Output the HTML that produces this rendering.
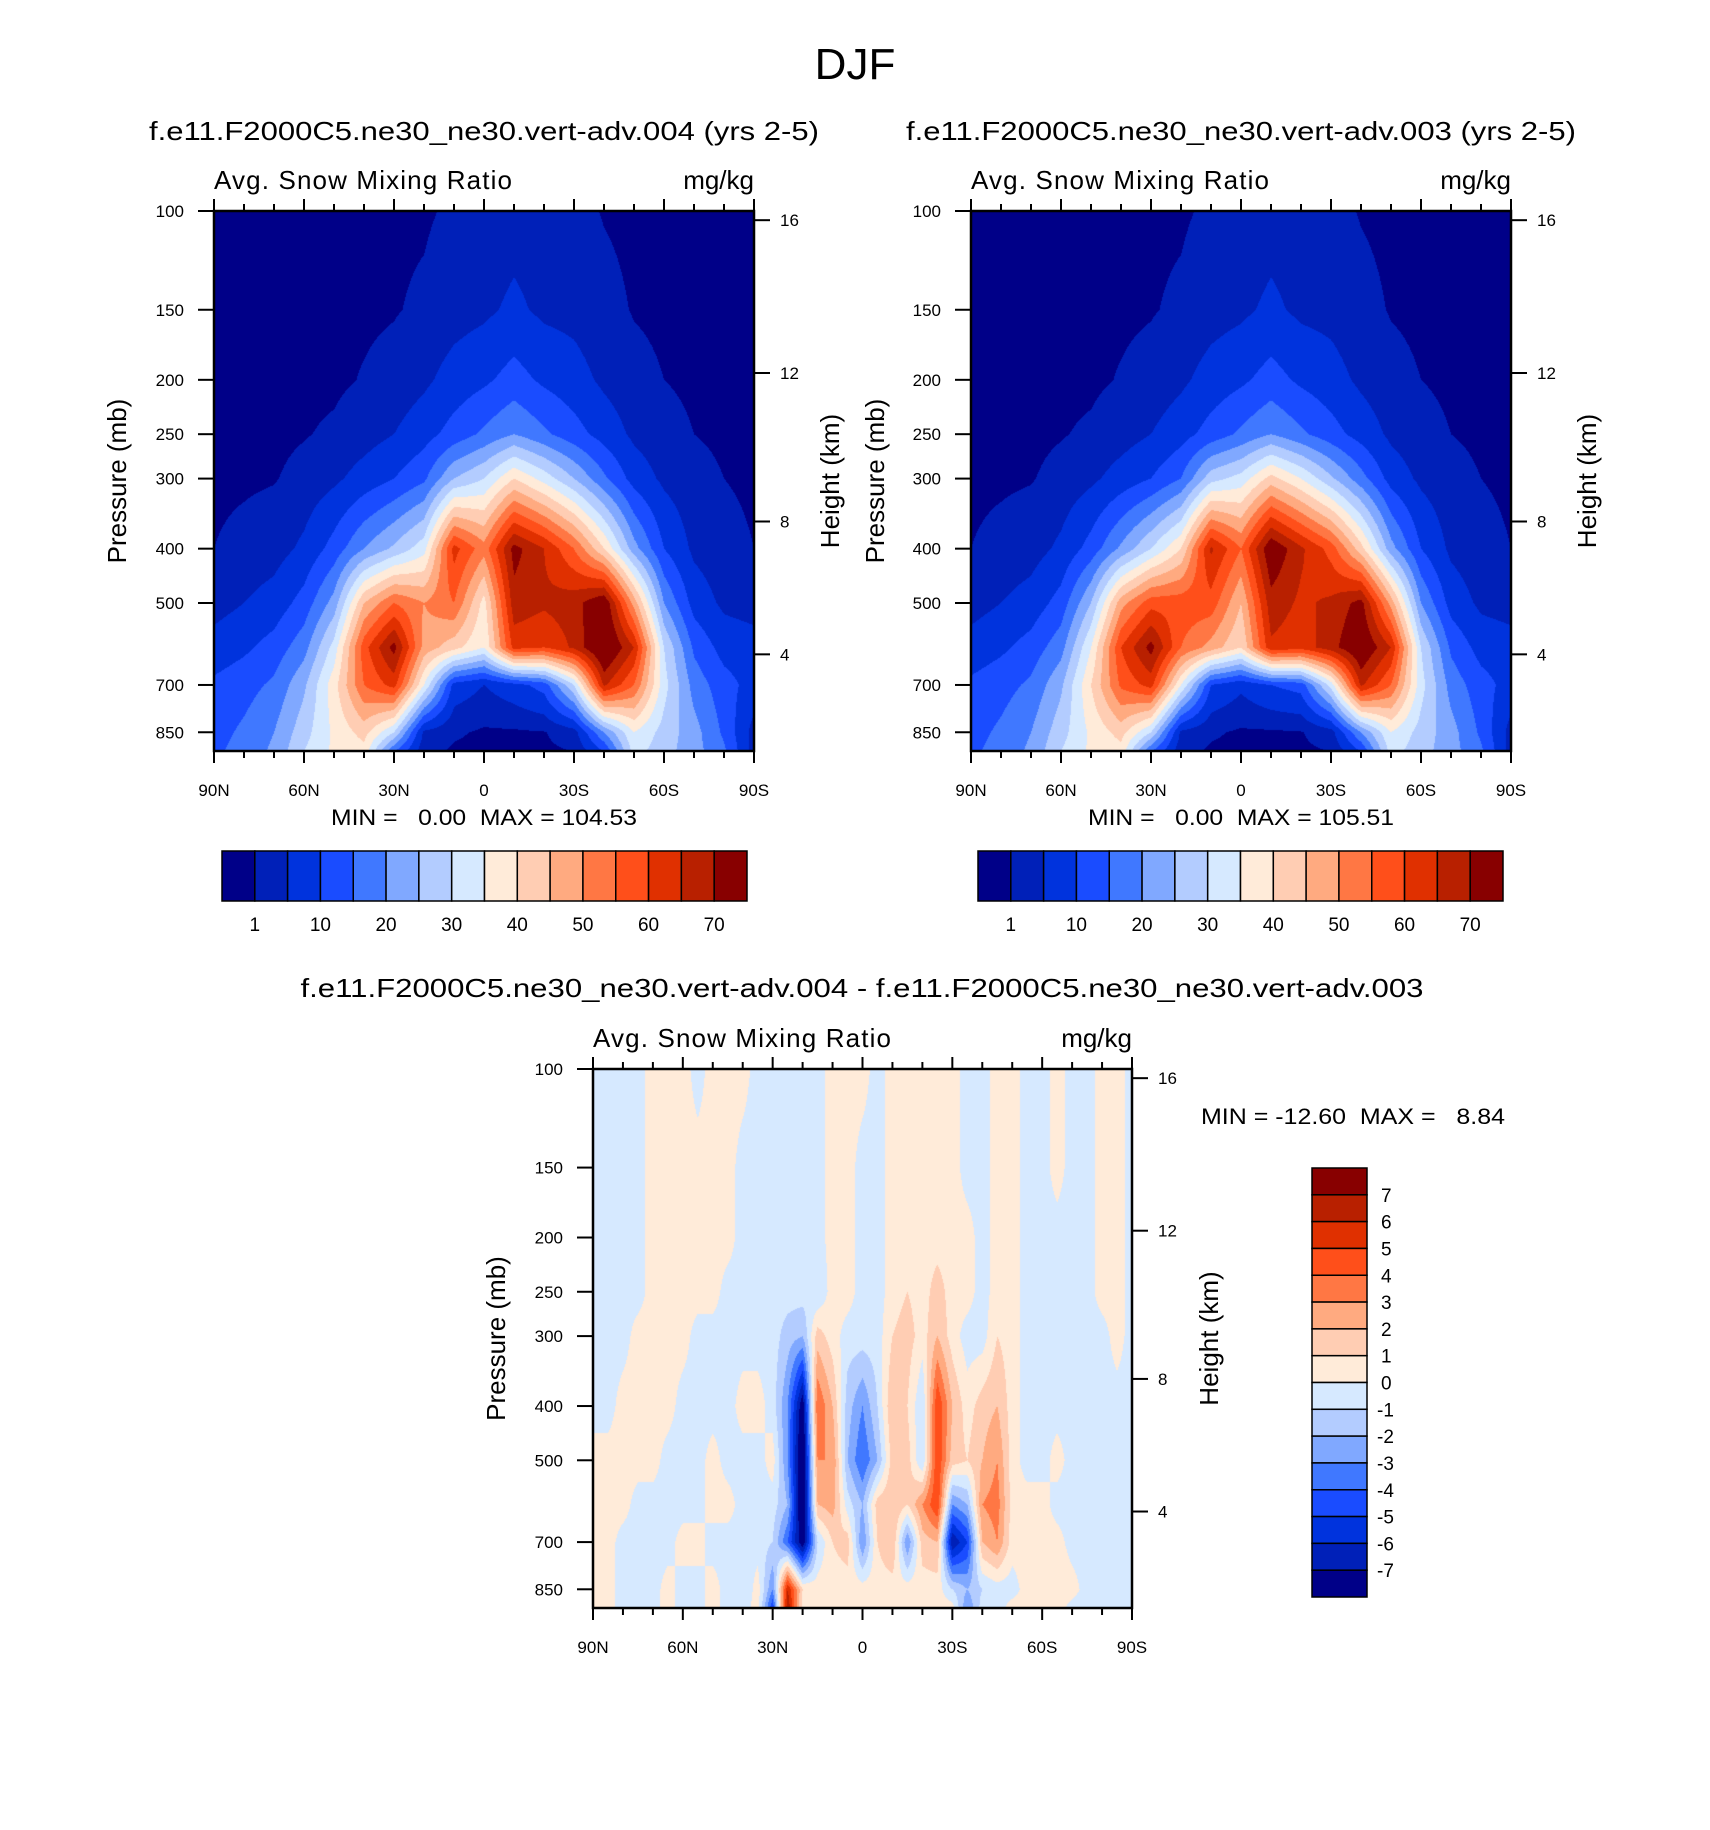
<!DOCTYPE html>
<html><head><meta charset="utf-8">
<style>
html,body{margin:0;padding:0;background:#fff;}
#root{position:relative;width:1710px;height:1830px;overflow:hidden;background:#fff;}
canvas{position:absolute;}
svg{position:absolute;left:0;top:0;}
text{font-family:"Liberation Sans",Arial,sans-serif;fill:#000;}
</style></head>
<body>
<div id="root">
<canvas id="c1" width="540" height="540" style="left:214px;top:211px"></canvas>
<canvas id="c2" width="540" height="540" style="left:971px;top:211px"></canvas>
<canvas id="c3" width="539" height="539" style="left:593px;top:1069px"></canvas>
<svg id="svg" width="1710" height="1830">
<text x="855" y="79" font-size="44" text-anchor="middle">DJF</text>
<text x="484" y="140" font-size="26" text-anchor="middle" textLength="670" lengthAdjust="spacingAndGlyphs">f.e11.F2000C5.ne30_ne30.vert-adv.004 (yrs 2-5)</text>
<text x="1241" y="140" font-size="26" text-anchor="middle" textLength="670" lengthAdjust="spacingAndGlyphs">f.e11.F2000C5.ne30_ne30.vert-adv.003 (yrs 2-5)</text>
<text x="862" y="997" font-size="26" text-anchor="middle" textLength="1123" lengthAdjust="spacingAndGlyphs">f.e11.F2000C5.ne30_ne30.vert-adv.004 - f.e11.F2000C5.ne30_ne30.vert-adv.003</text>
<text x="484" y="825" font-size="22" text-anchor="middle" textLength="306" lengthAdjust="spacingAndGlyphs" xml:space="preserve">MIN =   0.00  MAX = 104.53</text>
<text x="1241" y="825" font-size="22" text-anchor="middle" textLength="306" lengthAdjust="spacingAndGlyphs" xml:space="preserve">MIN =   0.00  MAX = 105.51</text>
<text x="1201" y="1124" font-size="22" textLength="304" lengthAdjust="spacingAndGlyphs" xml:space="preserve">MIN = -12.60  MAX =   8.84</text>
</svg>
</div>
<script>
// ---- data ----
const PLEV = [100,150,200,250,300,400,500,600,700,850,920];
const LAT10 = [90,80,70,60,50,40,30,20,10,0,-10,-20,-30,-40,-50,-60,-70,-80,-90];
const LAT5 = [90,85,80,75,70,65,60,55,50,45,40,35,30,25,20,15,10,5,0,-5,-10,-15,-20,-25,-30,-35,-40,-45,-50,-55,-60,-65,-70,-75,-80,-85,-90];
const LEVELS_ABS = [1,5,10,15,20,25,30,35,40,45,50,55,60,65,70];
const LEVELS_DIFF = [-7,-6,-5,-4,-3,-2,-1,0,1,2,3,4,5,6,7];
const CB_LABELS_ABS = ["1","10","20","30","40","50","60","70"];
const CB_LABELS_DIFF = ["7","6","5","4","3","2","1","0","-1","-2","-3","-4","-5","-6","-7"];
const PRESS_TICKS = [100,150,200,250,300,400,500,700,850];
const HEIGHT_TICKS = ["16","12","8","4"];
const LAT_LABELS = ["90N","60N","30N","0","30S","60S","90S"];
const COLORS = ["#000088","#0020b8","#0033dd","#1a4cff","#4078ff","#80a8ff","#b3ccff","#d6e9ff","#ffebd9","#ffcdb3","#ffaa80","#ff7744","#ff4f1a","#e03000","#b82000","#880000"];

// Panel 004: one column per latitude (LAT10), values per PLEV
const p004Cols = [
 [.3,.3,.3,.3,.3,1.0,3,7,11,13,14],
 [.3,.3,.3,.3,.5,2,5,9,13,16,17],
 [.3,.3,.3,.3,.8,3,7,12,16,20,21],
 [.3,.3,.3,.8,2,6,12,18,24,28,30],
 [.4,.4,.4,1.5,4,12,22,32,38,36,36],
 [.4,.5,1.2,3,7,20,45,58,55,42,38],
 [.5,.8,2,5,10,26,55,72,62,30,15],
 [.6,1.5,4,8,14,33,50,48,35,4,2],
 [1.5,3,7,12,25,62,55,42,8,1.5,.5],
 [2,4,9,16,30,52,38,35,5,.5,.3],
 [3,6,12,20,40,72,68,62,8,.5,.3],
 [2.5,4,9,16,33,65,66,60,12,.8,.4],
 [2,3.5,7,12,25,55,68,66,30,3,1],
 [.8,2,4,8,16,40,75,78,66,20,10],
 [.3,.8,2,4,8,22,48,65,55,35,32],
 [.3,.4,1,2,4,10,20,30,32,28,27],
 [.3,.3,.5,1,2,4,8,14,18,22,22],
 [.3,.3,.3,.5,1,2,4,8,12,14,16],
 [.3,.3,.3,.3,.5,1,3,7,8,3,3]
];
// Panel 003
const p003Cols = [
 [.3,.3,.3,.3,.3,1.0,3,7,11,13,14],
 [.3,.3,.3,.3,.5,2,5,9,13,16,17],
 [.3,.3,.3,.3,.8,3,7,12,16,20,21],
 [.3,.3,.3,.8,2,6,12,18,24,28,30],
 [.4,.4,.4,1.5,4,12,25,35,40,36,36],
 [.4,.5,1.2,3,7,21,48,60,56,42,38],
 [.5,.8,2,5,10,30,58,72,62,30,15],
 [.6,1.5,4,8,15,40,58,55,35,4,2],
 [1.5,3,7,12,28,66,58,48,10,1.5,.5],
 [2,4,9,16,32,55,45,40,6,.5,.3],
 [3,6,12,20,42,75,68,64,10,.5,.3],
 [2.5,4,9,16,35,66,64,62,12,.8,.4],
 [2,3.5,7,12,26,58,66,68,32,3,1],
 [.8,2,4,8,17,42,72,76,66,20,10],
 [.3,.8,2,4,8,22,48,65,55,35,32],
 [.3,.4,1,2,4,10,20,30,32,28,27],
 [.3,.3,.5,1,2,4,8,14,18,22,22],
 [.3,.3,.3,.5,1,2,4,8,12,14,16],
 [.3,.3,.3,.3,.5,1,3,7,8,3,3]
];
// Difference: one row per PLEV, values per LAT5
const B=-0.5, P=0.5;
const diffRows = [
 [B,B,B,B,P,P,P,B,P,P,P,B,B,B,B,B,P,P,P,B,P,P,P,P,P,B,B,P,P,B,B,P,B,B,P,P,B],
 [B,B,B,B,P,P,P,P,P,P,B,B,B,B,B,B,P,P,B,B,P,P,P,P,P,B,B,P,P,B,B,P,B,B,P,P,B],
 [B,B,B,B,P,P,P,P,P,P,B,B,B,B,B,B,P,P,B,B,P,P,P,P,P,P,B,P,P,B,B,B,B,B,P,P,B],
 [B,B,B,B,P,P,P,P,P,B,B,B,B,B,B,-1,P,P,B,B,P,1,P,1.5,P,P,B,P,P,B,B,B,B,B,P,P,B],
 [B,B,B,P,P,P,P,B,B,B,B,B,B,-1.5,-2,1.5,P,B,B,B,1,1.5,P,2,P,B,B,1,P,B,B,B,B,B,B,P,B],
 [B,B,P,P,P,P,B,B,B,B,P,P,B,-3,-8,4,2,-1.5,-3,-1,2,1,-1,5,2,P,1.5,2,P,B,B,B,B,B,B,B,B],
 [P,P,P,P,P,B,B,B,P,B,B,B,P,-3,-9,3,3,-2,-4,-2,1.5,1.5,-1,5,1.5,1,2,3,P,B,B,P,B,B,B,B,B],
 [P,P,P,B,B,B,B,B,P,P,B,B,B,-2,-9,2,2.5,B,-2,1.5,2,1,3,5,-3,-2,3,3.5,P,P,P,B,B,B,B,B,B],
 [P,P,B,B,B,B,P,P,B,B,B,B,-1,-4,-8,-1,1,1.5,-3,1,2,-3,1.5,2,-7,-5,2,3,P,P,P,P,B,B,B,B,B],
 [P,P,B,B,B,P,B,B,P,B,-1,P,-3,6,1,P,P,P,P,P,P,P,P,P,-1,-2,-1,B,B,P,1,1,P,B,B,-1,B],
 [P,P,B,B,B,P,B,B,P,B,B,P,-5,7,P,P,P,P,P,P,P,P,P,P,P,-3,B,B,P,P,1,P,B,B,B,-1,B]
];

// ---- axis functions ----
const PBOT = 918;
function yFrac(p){ return Math.log10(p/100)/Math.log10(PBOT/100); }
function pFromFrac(f){ return 100*Math.pow(PBOT/100,f); }
function latFromFrac(f){ return 90-180*f; }
function xFracLat(lat){ return (90-lat)/180; }

function sampler(getV, lats){
  const lp = PLEV.map(p=>Math.log10(p));
  return function(lat, p){
    const l = Math.log10(p);
    let j=0; while(j<PLEV.length-2 && l>lp[j+1]) j++;
    let tj=(l-lp[j])/(lp[j+1]-lp[j]); tj=Math.max(0,Math.min(1,tj));
    let i=0; while(i<lats.length-2 && lat<lats[i+1]) i++;
    let ti=(lats[i]-lat)/(lats[i]-lats[i+1]); ti=Math.max(0,Math.min(1,ti));
    const a=getV(i,j),b=getV(i+1,j),c=getV(i,j+1),d=getV(i+1,j+1);
    return (a*(1-ti)+b*ti)*(1-tj)+(c*(1-ti)+d*ti)*tj;
  };
}
function hexRGB(h){return [parseInt(h.slice(1,3),16),parseInt(h.slice(3,5),16),parseInt(h.slice(5,7),16)];}
const RGB = COLORS.map(hexRGB);
function drawField(id, f, levels){
  const cv=document.getElementById(id), ctx=cv.getContext('2d');
  const W=cv.width,H=cv.height, img=ctx.createImageData(W,H);
  for(let y=0;y<H;y++){
    const p=pFromFrac((y+0.5)/H);
    for(let x=0;x<W;x++){
      const v=f(latFromFrac((x+0.5)/W),p);
      const k=(y*W+x)*4;
      let c=0; while(c<levels.length && v>=levels[c]) c++;
      const rgb=RGB[c];
      img.data[k]=rgb[0];img.data[k+1]=rgb[1];img.data[k+2]=rgb[2];img.data[k+3]=255;
    }
  }
  ctx.putImageData(img,0,0);
}
drawField('c1', sampler((i,j)=>p004Cols[i][j], LAT10), LEVELS_ABS);
drawField('c2', sampler((i,j)=>p003Cols[i][j], LAT10), LEVELS_ABS);
drawField('c3', sampler((i,j)=>diffRows[j][i], LAT5), LEVELS_DIFF);

// ---- SVG axes ----
const NS="http://www.w3.org/2000/svg";
const svg=document.getElementById('svg');
function el(tag, attrs, parent){
  const e=document.createElementNS(NS,tag);
  for(const k in attrs) e.setAttribute(k,attrs[k]);
  (parent||svg).appendChild(e); return e;
}
function txt(x,y,s,size,anchor,parent){
  const t=el('text',{x:x,y:y,'font-size':size,'text-anchor':anchor||'start'},parent);
  t.textContent=s; return t;
}
const HFRAC=[0.017,0.300,0.575,0.821];
function drawAxes(L,T,S,name,pressX,heightX){
  const g=el('g',{});
  
  
  const fr=el('rect',{x:L,y:T,width:S,height:S,fill:'none',stroke:'#000','stroke-width':2.5},g);
  
  
  for(let lat=90;lat>=-90;lat-=10){
    const x=L+xFracLat(lat)*S, major=(lat%30===0), len=major?12:7;
    el('line',{x1:x,y1:T,x2:x,y2:T-len,stroke:'#000','stroke-width':2},g);
    el('line',{x1:x,y1:T+S,x2:x,y2:T+S+len,stroke:'#000','stroke-width':2},g);
  }
  LAT_LABELS.forEach((s,i)=>{
    const t=txt(L+i*S/6,T+S+45,s,17,'middle',g);
    
    
  });
  PRESS_TICKS.forEach(p=>{
    const y=T+yFrac(p)*S;
    el('line',{x1:L,y1:y,x2:L-16,y2:y,stroke:'#000','stroke-width':2},g);
    const t=txt(L-30,y+6,String(p),17,'end',g);
    
    
  });
  HEIGHT_TICKS.forEach((s,i)=>{
    const y=T+HFRAC[i]*S;
    el('line',{x1:L+S,y1:y,x2:L+S+16,y2:y,stroke:'#000','stroke-width':2},g);
    const t=txt(L+S+26,y+6,s,17,'start',g);
    
    
  });
  const st=txt(L,T-22,'Avg. Snow Mixing Ratio',26,'start',g);
  st.setAttribute('textLength','298');
  
  
  const un=txt(L+S,T-22,'mg/kg',26,'end',g);
  
  
  const cy=T+S*0.5;
  const pt=txt(pressX,cy,'Pressure (mb)',26,'middle',g);
  pt.setAttribute('transform','rotate(-90 '+pressX+' '+cy+')');
  
  
  const ht=txt(heightX,cy,'Height (km)',26,'middle',g);
  ht.setAttribute('transform','rotate(-90 '+heightX+' '+cy+')');
  
  
}
drawAxes(214,211,540,'panel-004',126,839);
drawAxes(971,211,540,'panel-003',884,1596);
drawAxes(593,1069,539,'difference',505,1218);

function hColorbar(L,T,W,H,name){
  const g=el('g',{});
  
  
  const bw=W/COLORS.length;
  COLORS.forEach((c,i)=>{
    const r=el('rect',{x:L+i*bw,y:T,width:bw,height:H,fill:c,stroke:'#000','stroke-width':1.5},g);
    
    
  });
  CB_LABELS_ABS.forEach((s,k)=>{
    const x=L+(1+2*k)*bw;
    const t=txt(x,T+H+30,s,19,'middle',g);
    
    
  });
}
hColorbar(222,851,525,50,'panel-004-colorbar');
hColorbar(978,851,525,50,'panel-003-colorbar');

(function(){
  const L=1312,T=1168,W=55,H=429;
  const g=el('g',{});
  
  
  const bh=H/COLORS.length;
  for(let i=0;i<COLORS.length;i++){
    const r=el('rect',{x:L,y:T+i*bh,width:W,height:bh,fill:COLORS[COLORS.length-1-i],stroke:'#000','stroke-width':1.5},g);
    
    
  }
  CB_LABELS_DIFF.forEach((s,k)=>{
    const y=T+(k+1)*bh+7;
    const t=txt(L+W+10+(s.length===1?4:0),y,s,19,'start',g);
    
    
  });
})();
</script>
</body></html>
